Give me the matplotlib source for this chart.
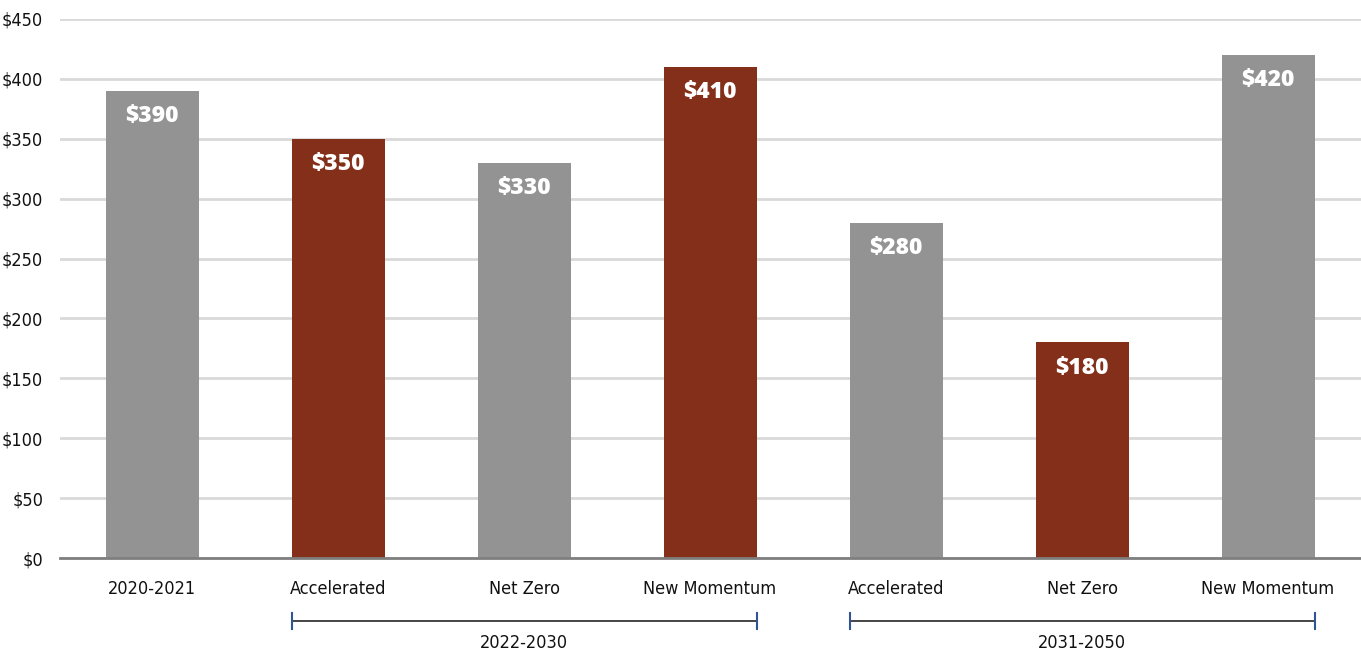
import matplotlib
matplotlib.use("Agg")
import matplotlib.pyplot as plt
from matplotlib.font_manager import FontProperties

categories = ["2020-2021", "Accelerated", "Net Zero", "New Momentum",
              "Accelerated", "Net Zero", "New Momentum"]
values = [390, 350, 330, 410, 280, 180, 420]
bar_colors = ["#939393", "#832f1a", "#939393", "#832f1a",
              "#939393", "#832f1a", "#939393"]
groups = [("2022-2030", 1, 3), ("2031-2050", 4, 6)]
yticks = list(range(0, 451, 50))
ytick_labels = [f"\\${v}" for v in yticks]

plt.rcParams["font.family"] = ["DejaVu Sans"]
plt.rcParams["font.stretch"] = "normal"

axis_font = FontProperties(family="DejaVu Sans", stretch="condensed", size=13)
value_font = FontProperties(family="Open Sans", weight="heavy", stretch="normal",
                            size=16.5)

fig = plt.figure(figsize=(13.61, 6.53), dpi=100)
ax = fig.add_axes([60 / 1361, (653 - 558) / 653, 1 - 60 / 1361, (558 - 19) / 653])

x = list(range(len(values)))
bw = 0.5
ax.bar(x, values, width=bw, color=bar_colors, zorder=3)

for xi, v in zip(x, values):
    ax.text(xi, v - 11, f"\\${v}", ha="center", va="top", color="white",
            fontproperties=value_font, zorder=4)

ax.set_xlim(-0.495, 6.5)
ax.set_ylim(0, 450)
ax.set_yticks(yticks)
ax.set_yticklabels(ytick_labels, fontproperties=axis_font)
ax.set_xticks(x)
ax.set_xticklabels(categories, fontproperties=axis_font)
ax.tick_params(axis="both", length=0, colors="#111111")
ax.tick_params(axis="x", pad=16)
ax.tick_params(axis="y", pad=12)
ax.grid(axis="y", color="#d9d9d9", linewidth=2, zorder=0)
for side in ["top", "right", "left"]:
    ax.spines[side].set_visible(False)
ax.spines["bottom"].set_color("#7f7f7f")
ax.spines["bottom"].set_linewidth(2)
ax.spines["bottom"].set_zorder(4)

# group brackets below the category labels
trans = ax.get_xaxis_transform()
for label, i0, i1 in groups:
    x0, x1 = i0 - bw / 2, i1 + bw / 2
    yb = -63 / 539
    ax.plot([x0, x1], [yb, yb], color="#262626", lw=1.2, transform=trans,
            clip_on=False)
    for xe in (x0, x1):
        ax.plot([xe, xe], [yb - 8 / 539, yb + 8 / 539], color="#2f5597", lw=1.5,
                transform=trans, clip_on=False)
    ax.text((x0 + x1) / 2, -85 / 539, label, ha="center", va="center",
            fontproperties=axis_font, color="#111111", transform=trans)

fig.savefig("out.png", dpi=100)
